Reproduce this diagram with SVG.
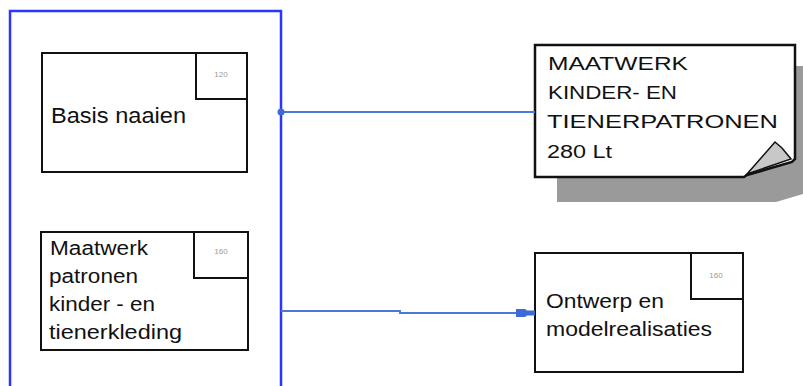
<svg xmlns="http://www.w3.org/2000/svg" width="803" height="386" viewBox="0 0 803 386">
<style>
.box{fill:#fff;stroke:#111;stroke-width:2}
.t{font-family:"Liberation Sans",Arial,sans-serif;font-size:20px;fill:#111}
.n{font-family:"Liberation Sans",Arial,sans-serif;font-size:8px;fill:#999;text-anchor:middle}
.c{fill:none;stroke:#4a78d8;stroke-width:2}
</style>
<defs>
<marker id="arr" markerUnits="userSpaceOnUse" markerWidth="22" markerHeight="12" refX="19" refY="6" orient="auto">
<path d="M0,2 H9 L11,3.5 H19 V8.5 H11 L9,10 H0 Z" fill="#3d6ad6"/>
</marker>
</defs>
<g id="frame">
<rect x="10" y="11" width="271" height="390" fill="none" stroke="#2a36ff" stroke-width="2.5"/>
</g>
<g id="basis">
<rect class="box" x="42" y="53" width="205" height="119"/>
<rect class="box" x="196" y="53" width="51" height="46"/>
<text class="n" x="221" y="77">120</text>
<text class="t" x="51" y="123" textLength="135" lengthAdjust="spacingAndGlyphs" style="font-size:22px">Basis naaien</text>
</g>
<g id="maatwerk">
<rect class="box" x="41" y="232" width="207" height="118"/>
<rect class="box" x="194" y="232" width="54" height="46"/>
<text class="n" x="221" y="254">160</text>
<text class="t" x="50" y="255" textLength="98" lengthAdjust="spacingAndGlyphs">Maatwerk</text>
<text class="t" x="49" y="283" textLength="89" lengthAdjust="spacingAndGlyphs">patronen</text>
<text class="t" x="49" y="311" textLength="106" lengthAdjust="spacingAndGlyphs">kinder - en</text>
<text class="t" x="49" y="339" textLength="133" lengthAdjust="spacingAndGlyphs">tienerkleding</text>
</g>
<g id="note">
<path d="M557,66 H803 V194 L776,202 H557 Z" fill="#9a9a9a"/>
<path d="M535,45 H795 V159 L792,162 L747,175 L744,177 H535 Z" fill="#fff" stroke="#111" stroke-width="2.5"/>
<path d="M747,174 L775,142 L782,148 L791,159 Z" fill="#c8c8c8" stroke="#111" stroke-width="1.5"/>
<text class="t" x="548" y="70" textLength="140" lengthAdjust="spacingAndGlyphs" style="font-size:18px">MAATWERK</text>
<text class="t" x="548" y="99" textLength="129" lengthAdjust="spacingAndGlyphs" style="font-size:18px">KINDER- EN</text>
<text class="t" x="547" y="128" textLength="231" lengthAdjust="spacingAndGlyphs" style="font-size:18px">TIENERPATRONEN</text>
<text class="t" x="547" y="158" textLength="65" lengthAdjust="spacingAndGlyphs" style="font-size:18px">280 Lt</text>
</g>
<g id="ontwerp">
<rect class="box" x="535" y="253" width="208" height="119"/>
<rect class="box" x="691" y="253" width="52" height="46"/>
<text class="n" x="716" y="278">160</text>
<text class="t" x="546" y="308" textLength="118" lengthAdjust="spacingAndGlyphs">Ontwerp en</text>
<text class="t" x="546" y="336" textLength="166" lengthAdjust="spacingAndGlyphs">modelrealisaties</text>
</g>
<g id="connectors">
<path class="c" d="M281,112 H535"/>
<circle cx="281" cy="112" r="3.5" fill="#3d6ad6"/>
<path class="c" d="M281,311 H400 V313 H535" marker-end="url(#arr)"/>
</g>
</svg>
